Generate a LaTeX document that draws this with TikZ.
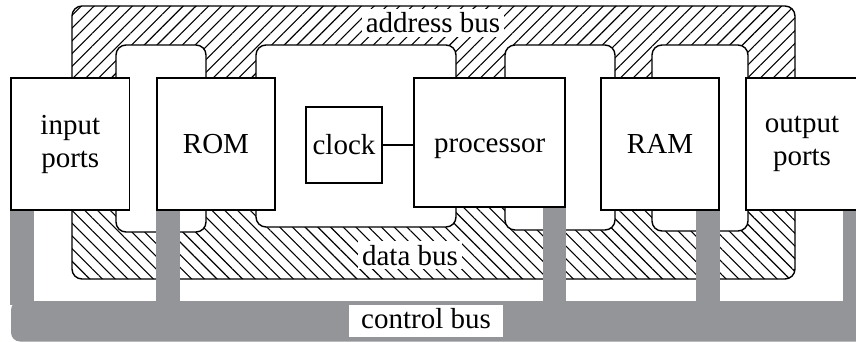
\documentclass[tikz,border=0pt]{standalone}
\usepackage{fontspec}
\setmainfont{Liberation Serif}
\usetikzlibrary{patterns.meta,backgrounds,calc}
\definecolor{busgray}{RGB}{147,149,152}
\begin{document}
\begin{tikzpicture}[x=1pt,y=-1pt,
  box/.style={draw=black, line width=1.8pt, fill=white, inner sep=0pt, font=\fontsize{29}{33}\selectfont},
  one/.style={text height=20pt, text depth=1pt},
  wide/.style={minimum width=118.5pt, minimum height=132pt},
  island/.style={draw=black, line width=1.4pt, fill=white, rounded corners=10pt},
  buslabel/.style={fill=white, inner sep=4pt, font=\fontsize{29}{33}\selectfont, anchor=base},
  cblabel/.style={fill=white, inner sep=0pt, minimum width=154pt, minimum height=32pt, text height=20pt, text depth=6pt, font=\fontsize{29}{33}\selectfont},
  cbus/.style={fill=busgray},
  hatchA/.style={pattern={Lines[angle=45,distance=9pt,line width=1.1pt]}},
  hatchD/.style={pattern={Lines[angle=-45,distance=9pt,line width=1.1pt]}},
]
\useasboundingbox (0,0) rectangle (856,342);

% units
\node[box, wide, align=center] (inp) at (70.25,144) {input\\ports};
\node[box, one, wide] (rom) at (216,144) {ROM};
\node[box, one, minimum width=76pt, minimum height=76pt] (clk) at (344,145) {clock};
\node[box, one, minimum width=151pt, minimum height=129pt] (proc) at (489.7,142.5) {processor};
\node[box, one, wide] (ram) at (660,144) {RAM};
\node[box, minimum width=112pt, minimum height=132pt, align=center] (out) at (802,144) {output\\ports};
\draw[line width=1.6pt] (clk.east) -- (clk.east -| proc.west);

% bus labels
\node[buslabel] (ab) at (433,33) {address bus};
\node[buslabel] (db) at (410,265) {data bus};
\node[cblabel] (cb) at (426,321) {control bus};

\begin{scope}[on background layer]
  \clip (0,0) rectangle (856,342);
  % address bus hatch
  \begin{scope}
    \clip (60,0) rectangle (800,140);
    \path[hatchA, rounded corners=10pt] (72,6) rectangle (795,279);
  \end{scope}
  % data bus hatch
  \begin{scope}
    \clip (60,140) rectangle (800,290);
    \path[hatchD, rounded corners=10pt] (72,6) rectangle (795,279);
  \end{scope}
  \draw[line width=1.4pt, rounded corners=10pt] (72,6) rectangle (795,279);
  % white islands between the buses
  \path[island] (116,45) rectangle (206,232);
  \path[island] (256,45) rectangle (456,227);
  \path[island] (505,45) rectangle (615,230);
  \path[island] (652,45) rectangle (748,231);
  % control bus
  \fill[cbus, rounded corners=9pt] (11,301) rectangle (880,341.5);
  \fill[cbus] ($(inp.south west)+(24,0)$) rectangle (inp.south west |- cb.north);
  \fill[cbus] ($(rom.south west)+(24,0)$) rectangle (rom.south west |- cb.north);
  \fill[cbus] ($(proc.south east)+(-23,0)$) rectangle (proc.south east |- cb.north);
  \fill[cbus] ($(ram.south east)+(-24,0)$) rectangle (ram.south east |- cb.north);
  \fill[cbus] ($(out.south east)+(-16,0)$) rectangle ($(out.south east |- cb.north)+(10,0)$);
\end{scope}
\end{tikzpicture}
\end{document}
